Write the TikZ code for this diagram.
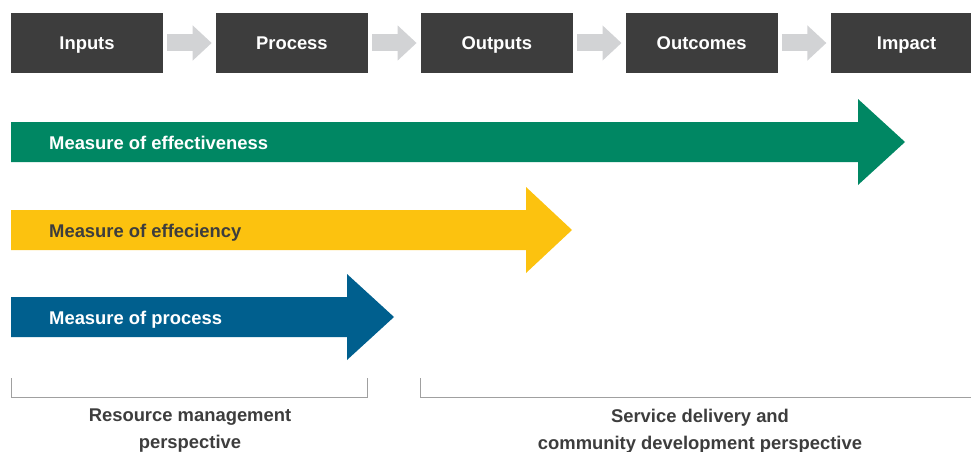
\documentclass[tikz,border=0pt]{standalone}
\usepackage{fontspec}
\setmainfont{Liberation Sans}
\usetikzlibrary{arrows.meta, positioning}
\definecolor{stagegray}{RGB}{61, 61, 61}
\definecolor{flowgray}{RGB}{210, 211, 213}
\definecolor{effectgreen}{RGB}{0, 135, 99}
\definecolor{efficyellow}{RGB}{252, 194, 15}
\definecolor{processblue}{RGB}{0, 95, 142}
\definecolor{bracketgray}{RGB}{160, 160, 160}
\newcommand{\labelfont}{\fontsize{18.4}{27}\selectfont\bfseries}

\tikzset{
  stage/.style={fill=stagegray, text=white, minimum width=152pt, minimum height=60pt, inner sep=0pt,
    text height=13.2pt, text depth=0pt, font=\labelfont},
  flow/.style={draw=flowgray, line width=17pt, -{Triangle[length=19pt, width=34pt]}, shorten <=4pt, shorten >=4pt},
  measure/.style={anchor=west, inner sep=0pt, text height=13.2pt, text depth=0pt, font=\labelfont},
  bracket/.style={draw=bracketgray, line width=1pt},
  persp/.style={align=center, text=stagegray, inner sep=0pt, font=\labelfont}
}

\begin{document}
\begin{tikzpicture}[x=1pt, y=-1pt]
  \clip (0,0) rectangle (971,452);

  % Stufen der Wirkungskette
  \node[stage] (inputs) at (87,43) {Inputs};
  \node[stage, right=52.5pt of inputs] (process) {Process};
  \node[stage, right=52.5pt of process] (outputs) {Outputs};
  \node[stage, right=52.5pt of outputs] (outcomes) {Outcomes};
  \node[stage, right=52.5pt of outcomes] (impact) {Impact};

  % Pfeile zwischen den Stufen
  \draw[flow] (inputs) -- (process);
  \draw[flow] (process) -- (outputs);
  \draw[flow] (outputs) -- (outcomes);
  \draw[flow] (outcomes) -- (impact);

  % Messgroessen (Blockpfeile)
  \fill[effectgreen] (11,122) -- (858,122) -- (858,99) -- (905,142) -- (858,185) -- (858,162) -- (11,162) -- cycle;
  \node[measure, text=white] (effect) at (49,142.5) {Measure of effectiveness};

  \fill[efficyellow] (11,210) -- (526,210) -- (526,187) -- (572,230) -- (526,273) -- (526,250) -- (11,250) -- cycle;
  \node[measure, text=stagegray] (effic) at (49,230.5) {Measure of effeciency};

  \fill[processblue] (11,297) -- (347,297) -- (347,274) -- (394,317) -- (347,360) -- (347,337) -- (11,337) -- cycle;
  \node[measure, text=white] (proc) at (49,317.5) {Measure of process};

  % Klammern und Perspektiven
  \draw[bracket] (11.5,378) |- (367.5,397.5) -- (367.5,378);
  \draw[bracket] (420,378) |- (975,397.5);
  \node[persp] (resource) at (190,431) {Resource management\\perspective};
  \node[persp] (service) at (700,431) {Service delivery and\\community development perspective};
\end{tikzpicture}
\end{document}
